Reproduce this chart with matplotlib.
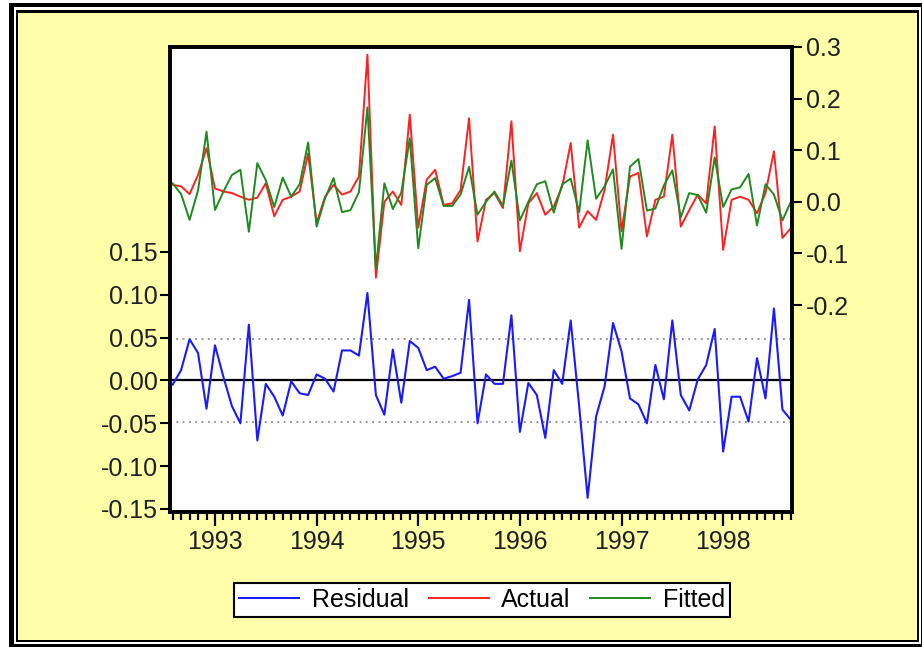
import numpy as np
import matplotlib
matplotlib.use("Agg")
import matplotlib.pyplot as plt
from matplotlib.patches import Rectangle
from matplotlib.ticker import FixedLocator

# monthly sample 1992M08 - 1998M09
years = ['1993', '1994', '1995', '1996', '1997', '1998']
year_start = [5, 17, 29, 41, 53, 65]   # index of January of each year

residual = [-0.005, 0.012, 0.048, 0.032, -0.033, 0.041, 0.004, -0.030, -0.050, 0.065,
            -0.070, -0.004, -0.019, -0.041, -0.001, -0.015, -0.017, 0.007, 0.002, -0.013,
            0.035, 0.035, 0.029, 0.102, -0.017, -0.040, 0.036, -0.026, 0.046, 0.038,
            0.012, 0.016, 0.002, 0.005, 0.009, 0.094, -0.050, 0.007, -0.004, -0.004,
            0.076, -0.060, -0.003, -0.017, -0.067, 0.012, -0.004, 0.070, -0.030, -0.137,
            -0.042, -0.007, 0.067, 0.034, -0.021, -0.028, -0.050, 0.018, -0.022, 0.070,
            -0.017, -0.035, 0.001, 0.018, 0.060, -0.083, -0.019, -0.019, -0.048, 0.026,
            -0.021, 0.084, -0.034, -0.046]

actual = [0.033, 0.030, 0.015, 0.052, 0.104, 0.026, 0.020, 0.017, 0.010, 0.004,
          0.008, 0.036, -0.028, 0.004, 0.010, 0.020, 0.094, -0.041, 0.010, 0.033,
          0.014, 0.020, 0.049, 0.285, -0.147, 0.000, 0.020, -0.006, 0.169, -0.050,
          0.043, 0.062, -0.006, -0.003, 0.023, 0.162, -0.077, 0.004, 0.017, -0.012,
          0.156, -0.096, -0.003, 0.017, -0.025, -0.009, 0.030, 0.114, -0.050, -0.018,
          -0.035, 0.023, 0.130, -0.057, 0.049, 0.056, -0.067, 0.004, 0.010, 0.130,
          -0.048, -0.016, 0.014, -0.003, 0.146, -0.093, 0.004, 0.010, 0.004, -0.022,
          0.017, 0.098, -0.070, -0.051]

fitted = [0.036, 0.015, -0.035, 0.022, 0.136, -0.016, 0.020, 0.052, 0.062, -0.058,
          0.075, 0.042, -0.010, 0.047, 0.010, 0.034, 0.115, -0.048, 0.007, 0.046,
          -0.020, -0.016, 0.019, 0.183, -0.130, 0.036, -0.014, 0.018, 0.123, -0.090,
          0.033, 0.046, -0.008, -0.008, 0.014, 0.068, -0.025, 0.000, 0.020, -0.008,
          0.080, -0.036, 0.000, 0.034, 0.040, -0.021, 0.034, 0.045, -0.020, 0.119,
          0.006, 0.030, 0.063, -0.091, 0.068, 0.083, -0.017, -0.013, 0.032, 0.061,
          -0.030, 0.017, 0.013, -0.021, 0.086, -0.010, 0.024, 0.028, 0.054, -0.046,
          0.034, 0.014, -0.036, 0.000]

se_band = 0.048

W, H = 922, 647
fig = plt.figure(figsize=(W / 100, H / 100), dpi=100)
fig.patch.set_facecolor('white')

def px_rect(x0, y0, x1, y1, color):
    # pixel box (top-left origin) -> figure fraction rectangle
    r = Rectangle((x0 / W, 1 - y1 / H), (x1 - x0) / W, (y1 - y0) / H,
                  transform=fig.transFigure, facecolor=color, edgecolor='none', zorder=-10)
    fig.patches.append(r)

px_rect(9, 3, 940, 660, 'black')
px_rect(14, 7, 921, 644, 'white')
px_rect(16, 10, 919, 642, 'black')
px_rect(18, 13, 917, 640, '#ffffaa')

plt.rcParams['font.family'] = ['Liberation Sans', 'DejaVu Sans']
fs = 18

ax = fig.add_axes([170 / W, 1 - 512 / H, 622 / W, 465 / H])
ax2 = ax.twinx()

x = np.arange(len(actual))

ax.axhline(0, color='black', lw=1.6, zorder=1)
ax.axhline(se_band, color='#8a8a9a', lw=1.3, ls=(0, (1, 2.5)), zorder=1)
ax.axhline(-se_band, color='#8a8a9a', lw=1.3, ls=(0, (1, 2.5)), zorder=1)
l_res, = ax.plot(x, residual, color='#1a1aff', lw=1.5, label='Residual', zorder=2)

l_act, = ax2.plot(x, actual, color='#ff2020', lw=1.4, label='Actual')
l_fit, = ax2.plot(x, fitted, color='#1f8a1f', lw=1.4, label='Fitted')

ax.set_xlim(-0.31, 73.13)
ax.set_ylim(-0.1535, 0.389)
ax2.set_ylim(-0.601, 0.3)

ax.set_yticks([-0.15, -0.10, -0.05, 0.00, 0.05, 0.10, 0.15])
ax.set_yticklabels(['-0.15', '-0.10', '-0.05', '0.00', '0.05', '0.10', '0.15'])
ax2.set_yticks([-0.2, -0.1, 0.0, 0.1, 0.2, 0.3])
ax2.set_yticklabels(['-0.2', '-0.1', '0.0', '0.1', '0.2', '0.3'])

ax.set_xticks(year_start)
ax.set_xticklabels(years)
ax.xaxis.set_minor_locator(FixedLocator(list(x)))

ax.tick_params(axis='x', which='major', length=10, width=1.6, direction='out',
               labelsize=fs, pad=3, colors='black', labelcolor='#202020')
ax.tick_params(axis='x', which='minor', length=6, width=1.6, direction='out')
ax.tick_params(axis='y', length=7, width=1.5, direction='out', labelsize=fs,
               pad=2, labelcolor='#202020')
ax2.tick_params(axis='y', length=7, width=1.5, direction='out', labelsize=fs,
                pad=3, labelcolor='#202020')

for a in (ax, ax2):
    for s in a.spines.values():
        s.set_linewidth(2.6)
        s.set_color('black')
ax.set_facecolor('white')
ax2.patch.set_visible(False)

leg = fig.legend(handles=[l_res, l_act, l_fit], loc='center',
                 bbox_to_anchor=(482 / W, 1 - 600 / H), ncol=3, fontsize=fs,
                 frameon=True, fancybox=False, handlelength=2.4, handletextpad=0.5,
                 columnspacing=0.8, borderpad=0.2, borderaxespad=0)
leg.get_frame().set_edgecolor('black')
leg.get_frame().set_linewidth(1.5)
leg.get_frame().set_facecolor('white')
leg.get_frame().set_alpha(1)

fig.savefig('out.png', dpi=100, facecolor=fig.get_facecolor())
